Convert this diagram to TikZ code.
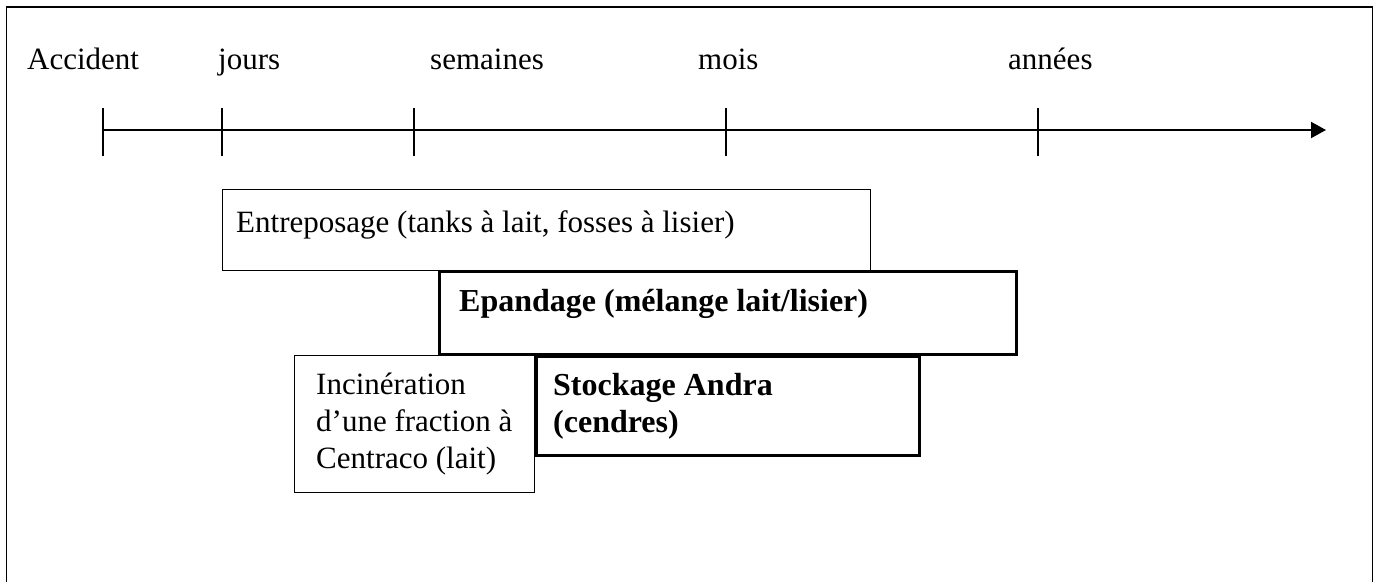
\documentclass[tikz,border=0pt]{standalone}
\usepackage{fontspec}
\setmainfont{Liberation Serif}
\usetikzlibrary{arrows.meta}
\begin{document}
\begin{tikzpicture}[x=1pt,y=-1pt,
  thinbox/.style={draw,line width=1.3pt,inner sep=0pt,anchor=north west},
  thickbox/.style={draw,line width=3.2pt,inner sep=0pt,anchor=north west},
  lbl/.style={inner sep=0pt,anchor=base west,font=\fontsize{31}{37}\selectfont,align=left},
  blbl/.style={inner sep=0pt,anchor=base west,font=\fontsize{32}{37}\selectfont\bfseries,align=left},
  axis/.style={line width=2pt}]
\useasboundingbox (0,0) rectangle (1381,581);

% outer frame (open at the bottom)
\draw[line width=1.8pt] (6.5,590) -- (6.5,7) -- (1372.5,7) -- (1372.5,590);

% time axis
\coordinate (t0) at (103,130);
\coordinate (t1) at (222,130);
\coordinate (t2) at (414,130);
\coordinate (t3) at (726,130);
\coordinate (t4) at (1038,130);
\coordinate (tend) at (1326,130);
\draw[axis,-{Triangle[length=15pt,width=16pt]}] (t0) -- (tend);
\foreach \t in {t0,t1,t2,t3,t4}
  \draw[axis] ([yshift=-26pt]\t) -- ([yshift=22pt]\t);

% time labels
\node[lbl] (accident) at (27,69) {Accident};
\node[lbl] (jours) at (218,69) {jours};
\node[lbl] (semaines) at (430,69) {semaines};
\node[lbl] (mois) at (698,69) {mois};
\node[lbl] (annees) at (1008,69) {années};

% phases
\node[thinbox,minimum width=648pt,minimum height=81pt] (ent) at (222,189) {};
\node[thickbox,minimum width=577pt,minimum height=83pt] (epa) at (438,270) {};
\node[thinbox,minimum width=240pt,minimum height=137pt] (inc) at (294,355) {};
\node[thickbox,minimum width=383pt,minimum height=99pt] (sto) at (535,355) {};

% phase texts (multi-line nodes are placed by their last baseline)
\node[lbl] (entT) at ([shift={(14,43)}]ent.north west) {Entreposage (tanks à lait, fosses à lisier)};
\node[blbl] (epaT) at ([shift={(21,41)}]epa.north west) {Epandage (mélange lait/lisier)};
\node[lbl] (incT) at ([shift={(22,113)}]inc.north west) {Incinération\\d’une fraction à\\Centraco (lait)};
\node[blbl] (stoT) at ([shift={(18,77)}]sto.north west) {Stockage Andra\\(cendres)};
\end{tikzpicture}
\end{document}
